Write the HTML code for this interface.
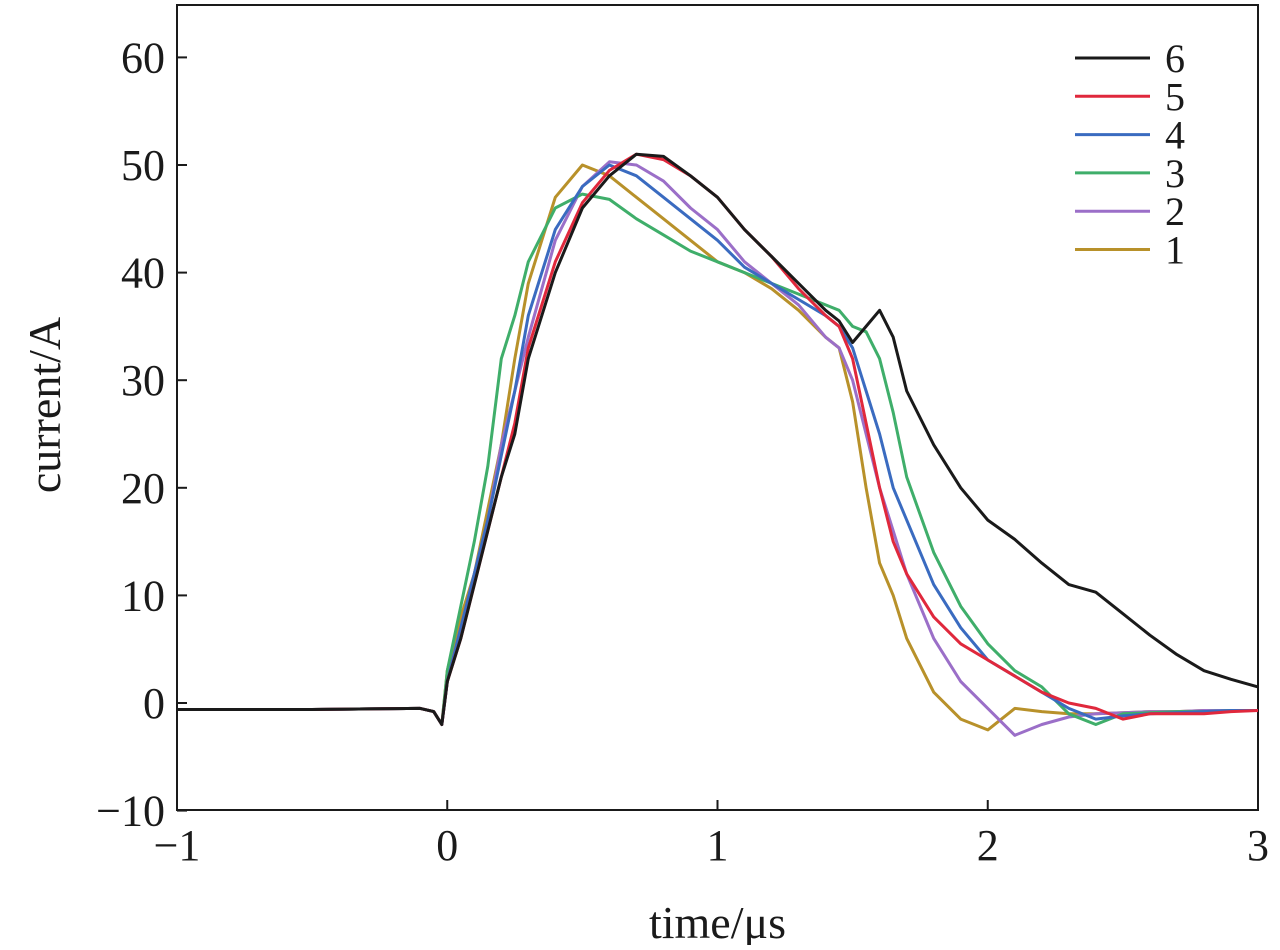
<!DOCTYPE html>
<html><head><meta charset="utf-8"><style>
body{margin:0;background:#fff}
svg text{font-family:"Liberation Serif",serif;fill:#1a1a1a}
</style></head><body>
<svg id="chart" width="1280" height="945">
<g id="axes"></g><g id="series"></g><g id="legend"></g>
</svg>
<script>
const times=[-1,-0.5,-0.1,-0.05,-0.02,0,0.05,0.1,0.15,0.2,0.25,0.3,0.4,0.5,0.6,0.7,0.8,0.9,1.0,1.1,1.2,1.3,1.4,1.45,1.5,1.55,1.6,1.65,1.7,1.8,1.9,2.0,2.1,2.2,2.3,2.4,2.5,2.6,2.7,2.8,2.9,3.0];
const s6=[-0.6,-0.6,-0.5,-0.8,-2,2,6,11,16,21,25,32,40,46,49,51,50.8,49,47,44,41.5,39,36.5,35.5,33.5,35,36.5,34,29,24,20,17,15.2,13,11,10.3,8.3,6.3,4.5,3,2.2,1.5];
const s5=[-0.6,-0.6,-0.5,-0.8,-2,2,6,11,16,21,26,33,41,46.5,49.5,51,50.5,49,47,44,41.5,38.5,36,35,32,26,20,15,12,8,5.5,4,2.5,1,0,-0.5,-1.5,-1,-1,-1,-0.8,-0.7];
const s4=[-0.6,-0.6,-0.5,-0.8,-2,2,7,12,17,23,29,36,44,48,50,49,47,45,43,40.5,39,37.5,36,35,33,29,25,20,17,11,7,4,2.5,1,-0.5,-1.5,-1.2,-1,-0.9,-0.8,-0.7,-0.7];
const s3=[-0.6,-0.6,-0.5,-0.8,-2,3,9,15,22,32,36,41,46,47.3,46.8,45,43.5,42,41,40,39,38,37,36.5,35,34.5,32,27,21,14,9,5.5,3,1.5,-1,-2,-1,-0.9,-0.8,-0.8,-0.7,-0.7];
const s2=[-0.6,-0.6,-0.5,-0.8,-2,2,7,12,17,24,29,34,43,48,50.3,50,48.5,46,44,41,39,37,34,33,30,25,20,16,12,6,2,-0.5,-3,-2,-1.3,-1,-0.9,-0.8,-0.8,-0.7,-0.7,-0.7];
const s1=[-0.6,-0.6,-0.5,-0.8,-2,3,8,12,18,24,32,39,47,50,49,47,45,43,41,40,38.5,36.5,34,33,28,20,13,10,6,1,-1.5,-2.5,-0.5,-0.8,-1,-1,-0.9,-0.8,-0.8,-0.7,-0.7,-0.7];
const seriesLabels=["6","5","4","3","2","1"];
const seriesData=[s6,s5,s4,s3,s2,s1];
const xTicks=[-1,0,1,2,3];
const yTicks=[-10,0,10,20,30,40,50,60];
const colors=["#1a1a1a","#e0283c","#3a6bc0","#3fae6a","#9b6fc8","#b8912a"];
const X0=177,X1=1258,Y0=810,Y1=5;
const xs=t=>X0+(t+1)*(X1-X0)/4;
const ys=v=>703-v*10.76;
const NS="http://www.w3.org/2000/svg";
function mk(tag,attrs,parent,txt){const e=document.createElementNS(NS,tag);for(const k in attrs)e.setAttribute(k,attrs[k]);if(txt!==undefined)e.textContent=txt;parent.appendChild(e);return e;}
const axes=document.getElementById('axes');
const box=mk('rect',{x:X0,y:Y1,width:X1-X0,height:Y0-Y1,fill:'none',stroke:'#1a1a1a','stroke-width':2},axes);


xTicks.forEach(t=>{
 const l=mk('line',{x1:xs(t),x2:xs(t),y1:Y0,y2:Y0-10,stroke:'#1a1a1a','stroke-width':2},axes);
 
 
 const tx=mk('text',{x:xs(t),y:Y0+50,'font-size':44,'text-anchor':'middle'},axes,t<0?'\u2212'+(-t):String(t));
 
 
});
yTicks.forEach(v=>{
 const l=mk('line',{x1:X0,x2:X0+10,y1:ys(v),y2:ys(v),stroke:'#1a1a1a','stroke-width':2},axes);
 
 
 const tx=mk('text',{x:X0-12,y:ys(v)+15,'font-size':44,'text-anchor':'end'},axes,v<0?'\u2212'+(-v):String(v));
 
 
});
const xt=mk('text',{x:(X0+X1)/2,y:938,'font-size':46,'text-anchor':'middle'},axes,'time/\u03bcs');


const yt=mk('text',{x:0,y:0,'font-size':46,'text-anchor':'middle',transform:'translate(60,405) rotate(-90)'},axes,'current/A');


const sg=document.getElementById('series');
seriesData.slice().reverse().forEach((d,ri)=>{
 const i=seriesData.length-1-ri;
 const pts=times.map((t,j)=>xs(t).toFixed(1)+','+ys(d[j]).toFixed(1)).join(' ');
 const p=mk('polyline',{points:pts,fill:'none',stroke:colors[i],'stroke-width':3,'stroke-linejoin':'round'},sg);
 
 
});
const lg=document.getElementById('legend');
seriesLabels.forEach((lab,i)=>{
 const y=58+i*38.3;
 const l=mk('line',{x1:1075,x2:1150,y1:y,y2:y,stroke:colors[i],'stroke-width':3},lg);
 
 
 const t=mk('text',{x:1165,y:y+14,'font-size':40},lg,lab);
 
 
});
</script>
</body></html>
